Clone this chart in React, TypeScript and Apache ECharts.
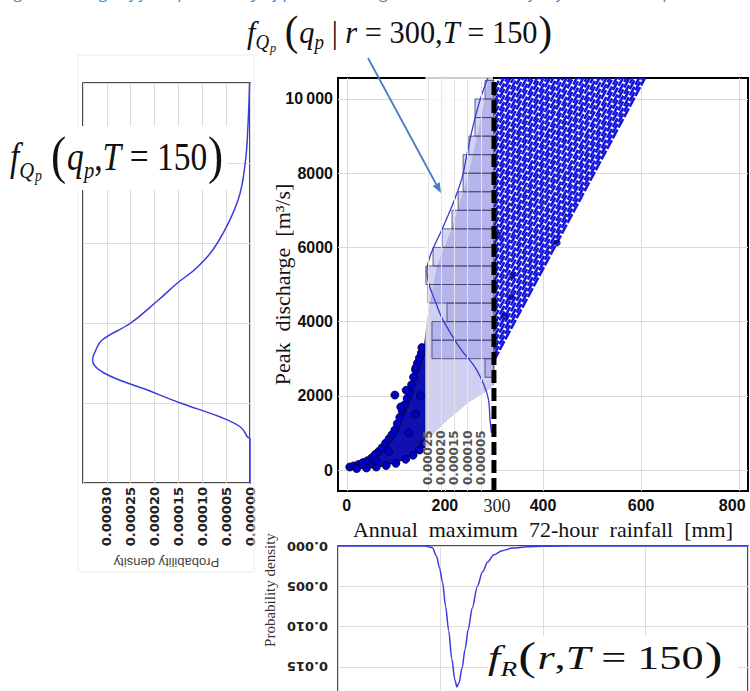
import React, { useEffect, useRef } from 'react';
import * as echarts from 'echarts';

// ---------- axis ticks ----------
const rainTicks = [0, 200, 400, 600, 800];
const rainLabelValues = [0, 200, 300, 400, 600, 800];
const dischargeTicks = [0, 2000, 4000, 6000, 8000, 10000];
const conditionRain = 300;

// ---------- simulated (rain, peak discharge) cloud, outline ----------
const cloudUpper = [
  [0, 60], [20, 120], [47, 270], [73, 620], [95, 1000], [113, 1620], [130, 2160], [143, 2880],
  [158, 3290], [164, 4050], [185, 5500], [215, 6500], [250, 8000], [275, 9500], [290, 10566], [298, 10566],
];
const cloudLower = [
  [298, 2300], [292, 2200], [250, 1850], [200, 1300], [164, 820], [143, 490], [115, 270], [82, 130], [47, 50], [0, 30],
];
const cloudEdgePoints = [
  [6, 80], [14, 110], [24, 150], [33, 200], [42, 250], [51, 330], [58, 420], [65, 500], [72, 600], [79, 720],
  [86, 840], [92, 950], [98, 1080], [103, 1250], [108, 1420], [113, 1600], [118, 1760], [123, 1930], [128, 2100],
  [132, 2300], [136, 2500], [140, 2700], [144, 2880], [148, 3020], [152, 3150], [156, 3260], [98, 2020],
  [141, 2760], [121, 2150], [110, 1700], [153, 3300], [20, 40], [40, 55], [60, 80], [80, 120], [100, 180],
  [120, 290], [135, 400], [148, 540], [157, 700], [126, 1000], [140, 1500], [150, 2000], [85, 500], [60, 250],
];
// dashed simulation traces right of r = 300
const fanStartQ = [2950, 3100, 3250, 3420, 3580, 3750, 3900, 4080, 4250, 4400, 4580, 4750, 4900, 5080, 5250, 5400,
  5580, 5750, 5900, 6080, 6250, 6400, 6580, 6750, 6900, 7080, 7250, 7400, 7580, 7750, 7900, 8080, 8250, 8400, 8580,
  8750, 8900, 9080, 9250, 9400, 9580, 9750, 9900, 10080, 10250];
const fanEndR = [608, 602, 596, 589, 583, 576, 570, 563, 556, 550, 542, 536, 529, 522, 515, 509, 502, 495, 489, 482,
  475, 469, 461, 455, 448, 441, 434, 428, 421, 414, 408, 401, 394, 388, 380, 374, 367, 360, 353, 347, 340, 333, 327,
  320, 313];
const fanTopQ = 10566;
const fanDots = [[307, 6330], [322, 4150], [334, 4660], [338, 5250], [429, 6120]];

// ---------- conditional histogram at r = 300 ----------
const histBinLow = [2500, 3000, 3500, 4000, 4500, 5000, 5500, 6000, 6500, 7000, 7500, 8000, 8500, 9000, 9500, 10000];
const histBinHigh = [3000, 3500, 4000, 4500, 5000, 5500, 6000, 6500, 7000, 7500, 8000, 8500, 9000, 9500, 10000, 10500];
const histDensity = [0.000034, 0.000235, 0.000235, 0.000178, 0.00025, 0.000258, 0.000231, 0.000197, 0.000159,
  0.000136, 0.000117, 0.000117, 0.000095, 0.000072, 0.000072, 0.000034];
const condQ = [1000, 1350, 1970, 2700, 3300, 4040, 4500, 5000, 5350, 5750, 6550, 7280, 7900, 8600, 9250, 9970, 10566];
const condDensity = [0.00001, 0.000015, 0.000023, 0.000066, 0.00013, 0.000193, 0.00022, 0.000246, 0.000254,
  0.000243, 0.000193, 0.00015, 0.00012, 0.0001, 0.00008, 0.000053, 0.000023];

// ---------- marginal of peak discharge (left panel) ----------
const margQ = [0, 1100, 1150, 1400, 1650, 2000, 2325, 2750, 3075, 3325, 3575, 4000, 4575, 5000, 5400, 6025, 7075,
  8000, 9000, 10000];
const margDensity = [0, 0, 0.000005, 0.00002, 0.0000625, 0.000146, 0.000215, 0.000306, 0.00033, 0.000323, 0.00031,
  0.00025, 0.000192, 0.000152, 0.00011, 0.000067, 0.000025, 0.00001, 0.000004, 0.000001];

// ---------- marginal of rainfall (bottom panel) ----------
const rainR = [0, 85, 92, 96, 99, 102, 105, 108, 111, 114, 116, 118, 121, 124, 127, 131, 136, 141, 146, 152, 160,
  170, 185, 200, 250, 400];
const rainDensity = [0, 0, 0.0002, 0.0012, 0.0027, 0.0045, 0.0075, 0.0105, 0.014, 0.0166, 0.0175, 0.017, 0.0152,
  0.0128, 0.0104, 0.0077, 0.005, 0.0032, 0.002, 0.0011, 0.0006, 0.00025, 0.0001, 0.00003, 0, 0];

const SERIF = 'Liberation Serif';
const SANS = 'Liberation Sans';
const DEJAVU = 'DejaVu Sans';
const INK = '#111';

function formulaRich(B: number, parScale: number) {
  const base = { fontFamily: SERIF, fill: INK, color: INK, verticalAlign: 'bottom' };
  const pb = Math.round(0.4 * B);
  return {
    it: { ...base, fontStyle: 'italic', fontSize: B, padding: [0, 0, pb, 0] },
    rm: { ...base, fontSize: B, padding: [0, 0, pb, 0] },
    sub: { ...base, fontStyle: 'italic', fontSize: Math.round(0.62 * B), padding: [0, 0, Math.round(0.27 * B), 0] },
    ss: { ...base, fontStyle: 'italic', fontSize: Math.round(0.4 * B), padding: [0, 0, Math.round(0.22 * B), 1] },
    par: { ...base, fontSize: Math.round(parScale * B), padding: [0, 1, Math.round(0.95 * B - 0.5 * parScale * B), 1] },
  };
}

export default function App() {
  const ref = useRef<HTMLDivElement>(null);
  useEffect(() => {
    const chart = echarts.init(ref.current!, null, { renderer: 'svg' });
    const cloudOutline = [...cloudUpper, ...cloudLower];
    const gridLine = { show: true, lineStyle: { color: '#d9d9d9', width: 1 } };
    const gridBase = { containLabel: false, outerBoundsMode: 'none', backgroundColor: 'rgba(0,0,0,0)' };
    const lastRain = rainLabelValues[rainLabelValues.length - 1];

    const option: any = {
      animation: false,
      backgroundColor: '#fff',
      grid: [
        { ...gridBase, left: 338, top: 78, width: 410, height: 413, show: true, borderColor: '#000', borderWidth: 2 },
        { ...gridBase, left: 414.8, top: 78, width: 79.2, height: 413, show: false },
        { ...gridBase, left: 83, top: 83, width: 167, height: 400, show: true, borderColor: '#111', borderWidth: 1.5 },
        { ...gridBase, left: 338, top: 546, width: 410, height: 161, show: true, borderColor: '#111', borderWidth: 1.5 },
      ],
      xAxis: [
        {
          gridIndex: 0, type: 'value', min: -18, max: 818,
          axisLine: { show: false },
          axisTick: { show: false, customValues: rainTicks },
          axisLabel: {
            customValues: rainLabelValues, margin: 6, fontFamily: SANS, fontWeight: 'bold', fontSize: 16, color: INK,
            formatter: (v: number) => (v === conditionRain ? `{c|${v}}` : v === lastRain ? `{e|${v}}` : String(v)),
            rich: {
              c: { fontFamily: SERIF, fontWeight: 'normal', fontSize: 18, color: '#222', padding: [0, 0, 0, 6] },
              e: { fontFamily: SANS, fontWeight: 'bold', fontSize: 16, color: INK, padding: [0, 14, 0, 0] },
            },
          },
          splitLine: gridLine,
          name: 'Annual  maximum  72-hour  rainfall  [mm]', nameLocation: 'middle', nameGap: 27, nameMoveOverlap: false,
          nameTextStyle: { fontFamily: SERIF, fontSize: 22, color: INK },
        },
        {
          gridIndex: 1, type: 'value', min: 0, max: 0.0003, interval: 0.00005, inverse: true, z: 10,
          axisLine: { show: false }, axisTick: { show: false },
          axisLabel: {
            inside: true, rotate: 90, margin: 6, showMinLabel: false, showMaxLabel: false,
            fontFamily: DEJAVU, fontWeight: 'bold', fontSize: 12, color: '#555',
            formatter: (v: number) => v.toFixed(5),
          },
          splitLine: { show: true, showMinLine: false, showMaxLine: false, lineStyle: { color: '#e2e2e2' } },
        },
        {
          gridIndex: 2, type: 'value', min: 0, max: 0.00035, interval: 0.00005, inverse: true,
          axisLine: { show: false }, axisTick: { show: false },
          axisLabel: {
            rotate: 90, margin: 4, showMaxLabel: false, fontFamily: DEJAVU, fontWeight: 'bold', fontSize: 13, color: '#222',
            formatter: (v: number) => v.toFixed(5),
          },
          splitLine: { show: true, lineStyle: { color: '#dcdcdc' } },
          name: 'Probability density', nameLocation: 'middle', nameGap: 73, nameRotate: 180, nameMoveOverlap: false,
          nameTextStyle: { fontFamily: SANS, fontSize: 13, color: '#444' },
        },
        {
          gridIndex: 3, type: 'value', min: 0, max: 400, interval: 100,
          axisLine: { show: false }, axisTick: { show: false }, axisLabel: { show: false },
          splitLine: { show: true, lineStyle: { color: '#dcdcdc' } },
        },
      ],
      yAxis: [
        {
          gridIndex: 0, type: 'value', min: -566, max: 10566,
          axisLine: { show: false },
          axisTick: { show: false, customValues: dischargeTicks },
          axisLabel: {
            customValues: dischargeTicks, margin: 5, fontFamily: SANS, fontWeight: 'bold', fontSize: 16, color: INK,
            formatter: (v: number) => (v >= 10000 ? '10\u2009000' : String(v)),
          },
          splitLine: gridLine,
          name: 'Peak  discharge  [m\u00b3/s]', nameLocation: 'middle', nameGap: 45, nameMoveOverlap: false,
          nameTextStyle: { fontFamily: SERIF, fontSize: 22, color: INK },
        },
        { gridIndex: 1, type: 'value', min: -566, max: 10566, show: false },
        {
          gridIndex: 2, type: 'value', min: 0, max: 10000, interval: 2000,
          axisLine: { show: false }, axisTick: { show: false }, axisLabel: { show: false },
          splitLine: { show: true, lineStyle: { color: '#dcdcdc' } },
        },
        {
          gridIndex: 3, type: 'value', min: 0, max: 0.02, interval: 0.005, inverse: true,
          axisLine: { show: false }, axisTick: { show: false },
          axisLabel: {
            rotate: 180, margin: 10, showMaxLabel: false, fontFamily: DEJAVU, fontWeight: 'bold', fontSize: 13, color: '#222',
            formatter: (v: number) => v.toFixed(3),
          },
          splitLine: { show: true, lineStyle: { color: '#dcdcdc' } },
        },
      ],
      series: [
        {
          name: 'cloud', type: 'custom', xAxisIndex: 0, yAxisIndex: 0, z: 2, silent: true,
          data: [[0, 0]],
          renderItem: (_p: any, api: any) => ({
            type: 'polygon',
            shape: { points: cloudOutline.map((pt) => api.coord(pt)) },
            style: { fill: '#1010b0', stroke: '#00004a', lineWidth: 1 },
          }),
        },
        {
          name: 'cloud points', type: 'scatter', xAxisIndex: 0, yAxisIndex: 0, z: 2, silent: true,
          symbolSize: 8, data: cloudEdgePoints,
          itemStyle: { color: '#0000c8', borderColor: '#000028', borderWidth: 0.8, opacity: 1 },
        },
        {
          name: 'traces', type: 'lines', coordinateSystem: 'cartesian2d', xAxisIndex: 0, yAxisIndex: 0, z: 2, silent: true,
          data: fanStartQ.map((q, i) => ({ coords: [[conditionRain, q], [fanEndR[i], fanTopQ]] })),
          lineStyle: { color: '#1414dc', width: 2.6, type: [10, 2], opacity: 1 },
        },
        {
          name: 'trace points', type: 'scatter', xAxisIndex: 0, yAxisIndex: 0, z: 2, silent: true,
          symbolSize: 6, data: fanDots,
          itemStyle: { color: '#0000c8', borderColor: '#000033', borderWidth: 0.8 },
        },
        {
          name: 'overlay', type: 'custom', xAxisIndex: 0, yAxisIndex: 0, z: 3, silent: true,
          data: [[160, 298]],
          renderItem: (_p: any, api: any) => {
            const a = api.coord([api.value(0), 10566]);
            const b = api.coord([api.value(1), -566]);
            return {
              type: 'rect',
              shape: { x: a[0], y: a[1] - 4, width: b[0] - a[0], height: b[1] - a[1] + 2 },
              style: { fill: 'rgba(255,255,255,0.8)' },
            };
          },
        },
        {
          name: 'histogram', type: 'custom', xAxisIndex: 1, yAxisIndex: 1, z: 4, silent: true,
          data: histBinLow.map((lo, i) => [lo, histBinHigh[i], histDensity[i]]),
          renderItem: (_p: any, api: any) => {
            const p1 = api.coord([api.value(2), api.value(1)]);
            const p0 = api.coord([0, api.value(0)]);
            return {
              type: 'rect',
              shape: { x: Math.min(p0[0], p1[0]), y: p1[1], width: Math.abs(p0[0] - p1[0]), height: p0[1] - p1[1] },
              style: { fill: 'rgba(140,140,228,0.38)', stroke: 'rgba(60,60,110,0.8)', lineWidth: 1 },
            };
          },
        },
        {
          name: 'conditional density', type: 'line', xAxisIndex: 1, yAxisIndex: 1, z: 5, silent: true,
          data: condQ.map((q, i) => [condDensity[i], q]),
          smooth: 0.4, showSymbol: false,
          lineStyle: { color: '#3a3ad4', width: 1.3 },
        },
        {
          name: 'r = 300', type: 'line', xAxisIndex: 0, yAxisIndex: 0, z: 6, silent: true,
          data: [[conditionRain, -566], [conditionRain, 10566]], showSymbol: false,
          lineStyle: { color: '#000', width: 5, type: [13, 5] },
        },
        {
          name: 'marginal discharge', type: 'line', xAxisIndex: 2, yAxisIndex: 2, silent: true,
          data: margQ.map((q, i) => [margDensity[i], q]),
          smooth: 0.4, showSymbol: false,
          lineStyle: { color: '#3c3ce0', width: 1.5 },
        },
        {
          name: 'marginal rainfall', type: 'line', xAxisIndex: 3, yAxisIndex: 3, silent: true,
          data: rainR.map((r, i) => [r, rainDensity[i]]),
          smooth: 0.3, smoothMonotone: 'x', showSymbol: false,
          lineStyle: { color: '#3c3ce0', width: 1.5 },
        },
      ],
      graphic: {
        elements: [
          {
            type: 'text', x: 2, y: -9, z: 50, silent: true,
            style: {
              text: 'Figure 9. Image of joint probability of peak discharge and 72-hour rainfall for the return period T = 150 years',
              fontFamily: 'Open Sans', fontStyle: 'italic', fontSize: 17, fill: '#2e8ad8', align: 'left', verticalAlign: 'middle',
            },
          },
          {
            type: 'text', x: 400, y: 35, z: 50, scaleX: 0.95, silent: true,
            style: {
              text: '{it|f}{sub|Q}{ss|p}{rm| }{par|(}{it|q}{sub|p}{rm| | }{it|r}{rm| = 300,}{it|T}{rm| = 150}{par|)}',
              rich: formulaRich(32, 1.35), align: 'center', verticalAlign: 'middle',
            },
          },
          { type: 'line', z: 50, silent: true, shape: { x1: 368, y1: 58, x2: 436.2, y2: 184.2 }, style: { stroke: '#4a7cc7', lineWidth: 1.8 } },
          { type: 'polygon', z: 50, silent: true, shape: { points: [[441, 193], [432.7, 186.1], [439.7, 182.3]] }, style: { fill: '#4a7cc7' } },
          { type: 'rect', z: 1, silent: true, shape: { x: 78, y: 55, width: 176, height: 517 }, style: { fill: 'none', stroke: '#ececec', lineWidth: 1 } },
          { type: 'rect', z: 40, silent: true, shape: { x: 5, y: 126, width: 222, height: 64 }, style: { fill: '#fff' } },
          {
            type: 'text', x: 117, y: 161, z: 50, scaleX: 0.86, silent: true,
            style: {
              text: '{it|f}{sub|Q}{ss|p}{rm| }{par|(}{it|q}{sub|p}{rm|,}{it|T}{rm| = 150}{par|)}',
              rich: formulaRich(39, 1.35), align: 'center', verticalAlign: 'middle',
            },
          },
          { type: 'rect', z: 40, silent: true, shape: { x: 488, y: 636, width: 250, height: 55 }, style: { fill: '#fff' } },
          {
            type: 'text', x: 606, y: 662, z: 50, scaleX: 1.3, silent: true,
            style: {
              text: '{it|f}{sub|R}{par|(}{it|r}{rm|,}{it|T}{rm| = 150}{par|)}',
              rich: formulaRich(34, 1.2), align: 'center', verticalAlign: 'middle',
            },
          },
          {
            type: 'text', x: 270, y: 590, rotation: Math.PI / 2, z: 50, silent: true,
            style: { text: 'Probability density', fontFamily: SERIF, fontSize: 15, fill: '#333', align: 'center', verticalAlign: 'middle' },
          },
        ],
      },
    };
    chart.setOption(option);
    return () => chart.dispose();
  }, []);
  return <div ref={ref} style={{ position: 'absolute', left: 0, top: 0, width: 750, height: 691, background: '#fff' }} />;
}
